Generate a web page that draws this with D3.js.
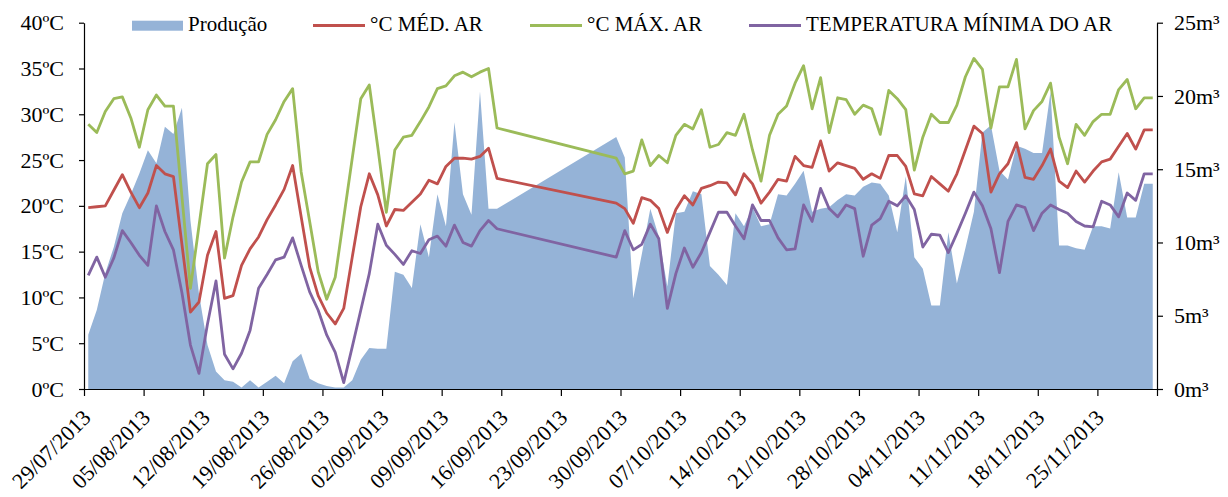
<!DOCTYPE html>
<html>
<head>
<meta charset="utf-8">
<script src="https://cdn.jsdelivr.net/npm/d3@7"></script>
<style>
  body { margin: 0; background: #fff; }
  text { font-family: "Liberation Serif", "Times New Roman", serif; fill: #000; }
</style>
</head>
<body>
<div id="chart"></div>
<script>
// days with data (16/09 - 28/09 missing)
var dias = ["29/07/2013","30/07/2013","31/07/2013",
  "01/08/2013","02/08/2013","03/08/2013","04/08/2013","05/08/2013","06/08/2013","07/08/2013","08/08/2013","09/08/2013","10/08/2013",
  "11/08/2013","12/08/2013","13/08/2013","14/08/2013","15/08/2013","16/08/2013","17/08/2013","18/08/2013","19/08/2013","20/08/2013",
  "21/08/2013","22/08/2013","23/08/2013","24/08/2013","25/08/2013","26/08/2013","27/08/2013","28/08/2013","29/08/2013","30/08/2013","31/08/2013",
  "01/09/2013","02/09/2013","03/09/2013","04/09/2013","05/09/2013","06/09/2013","07/09/2013","08/09/2013","09/09/2013","10/09/2013",
  "11/09/2013","12/09/2013","13/09/2013","14/09/2013","15/09/2013",
  "29/09/2013","30/09/2013",
  "01/10/2013","02/10/2013","03/10/2013","04/10/2013","05/10/2013","06/10/2013","07/10/2013","08/10/2013","09/10/2013","10/10/2013",
  "11/10/2013","12/10/2013","13/10/2013","14/10/2013","15/10/2013","16/10/2013","17/10/2013","18/10/2013","19/10/2013","20/10/2013",
  "21/10/2013","22/10/2013","23/10/2013","24/10/2013","25/10/2013","26/10/2013","27/10/2013","28/10/2013","29/10/2013","30/10/2013","31/10/2013",
  "01/11/2013","02/11/2013","03/11/2013","04/11/2013","05/11/2013","06/11/2013","07/11/2013","08/11/2013","09/11/2013","10/11/2013",
  "11/11/2013","12/11/2013","13/11/2013","14/11/2013","15/11/2013","16/11/2013","17/11/2013","18/11/2013","19/11/2013","20/11/2013",
  "21/11/2013","22/11/2013","23/11/2013","24/11/2013","25/11/2013","26/11/2013","27/11/2013","28/11/2013","29/11/2013","30/11/2013",
  "01/12/2013"];

// m3
var producao = [3.7,5.4,7.9,9.7,12.0,13.3,14.7,16.3,15.4,17.9,17.4,19.2,11.5,6.5,3.0,1.2,0.6,0.5,0.1,0.6,0.1,0.5,0.9,0.4,1.9,2.4,0.7,0.4,0.2,0.1,0.1,0.6,2.0,2.8,2.75,2.75,8.0,7.8,6.9,11.25,9.0,13.3,11.1,18.2,13.3,11.9,20.3,12.3,12.3,
  17.2,15.8,6.2,9.2,12.3,10.4,7.0,12.0,12.1,13.5,13.3,8.4,7.8,7.1,12.0,11.1,12.4,11.1,11.25,13.3,13.2,14.0,14.9,12.1,12.3,12.4,12.9,13.3,13.2,13.8,14.1,14.0,13.2,
  10.7,14.5,9.0,8.2,5.7,5.7,10.7,7.2,9.6,12.1,17.5,18.0,14.9,14.3,16.6,16.4,16.1,16.1,20.3,9.8,9.8,9.6,9.5,11.1,11.1,10.95,14.8,11.7,11.7,14.0,14.0];

var tMed = [19.8,19.9,20.0,21.7,23.4,21.5,19.8,21.4,24.4,23.5,23.2,15.8,8.4,9.5,14.6,17.2,9.9,10.2,13.5,15.3,16.6,18.5,20.1,21.8,24.4,18.8,13.3,10.2,8.3,7.1,8.8,14.4,19.9,23.5,21.2,17.8,19.6,19.5,20.4,21.3,22.8,22.4,24.3,25.2,25.2,25.1,25.4,26.3,23.0,
  20.3,19.7,18.1,20.9,20.6,19.7,17.1,19.6,21.1,20.1,21.9,22.2,22.6,22.5,21.2,23.5,22.4,20.3,21.5,22.9,22.7,25.4,24.4,24.2,27.1,23.8,24.7,24.4,24.1,22.9,23.5,23.0,25.5,
  25.5,24.3,21.3,21.1,23.2,22.4,21.6,23.5,26.1,28.7,27.9,21.5,23.5,24.6,26.9,23.1,22.9,24.4,26.2,22.7,22.0,23.8,22.6,23.8,24.8,25.1,26.5,27.9,26.2,28.3,28.3];

var tMax = [28.9,28.0,30.3,31.7,31.9,29.6,26.4,30.5,32.1,30.9,30.9,21.0,11.0,17.8,24.6,25.6,14.3,18.8,22.6,24.8,24.8,27.8,29.4,31.4,32.8,23.7,18.3,12.8,9.8,12.2,18.7,25.2,31.7,33.2,26.4,19.3,26.1,27.5,27.7,29.2,30.8,32.8,33.1,34.2,34.6,34.1,34.6,35.0,28.5,
  25.2,23.5,23.8,27.2,24.4,25.5,24.7,27.7,28.9,28.4,30.5,26.4,26.7,28.0,27.7,30.0,26.1,22.7,27.7,30.0,30.9,33.4,35.3,30.6,34.0,28.0,31.8,31.6,30.0,31.0,30.6,27.8,32.6,
  31.7,30.5,23.9,27.5,30.0,29.1,29.1,31.0,34.1,36.1,34.9,28.5,33.0,33.0,36.0,28.4,30.4,31.4,33.4,27.5,24.6,28.9,27.7,29.2,30.0,30.0,32.7,33.8,30.6,31.8,31.8];

var tMin = [12.4,14.4,12.2,14.3,17.3,16.0,14.6,13.5,20.0,17.2,15.2,10.5,4.8,1.7,7.1,11.8,3.8,2.2,3.9,6.4,11.0,12.5,14.1,14.4,16.5,13.5,10.6,8.6,5.9,4.0,0.7,4.6,8.6,12.6,18.0,15.7,14.7,13.6,15.1,14.8,16.3,16.7,15.6,17.9,16.0,15.6,17.3,18.4,17.5,
  14.4,17.3,15.2,15.8,18.0,16.4,8.8,12.6,15.4,13.3,14.9,17.1,19.3,19.3,17.8,16.4,20.1,18.4,18.4,16.5,15.2,15.3,20.1,18.3,21.9,19.7,18.8,20.1,19.7,14.5,17.9,18.6,20.5,
  20.0,21.1,19.6,15.5,16.9,16.8,14.9,17.0,19.2,21.5,20.0,17.5,12.7,18.3,20.1,19.8,17.3,19.2,20.1,19.6,19.2,18.3,17.8,17.7,20.5,20.1,18.8,21.4,20.6,23.5,23.5];

var semanas = ["29/07/2013","05/08/2013","12/08/2013","19/08/2013","26/08/2013","02/09/2013","09/09/2013","16/09/2013","23/09/2013",
  "30/09/2013","07/10/2013","14/10/2013","21/10/2013","28/10/2013","04/11/2013","11/11/2013","18/11/2013","25/11/2013"];
var fimEixo = "02/12/2013";

var ticksTemp = [0, 5, 10, 15, 20, 25, 30, 35, 40];
var ticksVol = [0, 5, 10, 15, 20, 25];

var series = [
  {nome: "°C MÉD. AR", valores: tMed, cor: "#C0504D"},
  {nome: "°C MÁX. AR", valores: tMax, cor: "#9BBB59"},
  {nome: "TEMPERATURA MÍNIMA DO AR", valores: tMin, cor: "#8064A2"}
];

var W = 1228, H = 497;
var plotLeft = 84, plotRight = 1157, plotTop = 22.7, plotBottom = 389;

var parse = d3.utcParse("%d/%m/%Y");
var halfDay = 12 * 3600 * 1000;
var datas = dias.map(function(s) { return new Date(parse(s).getTime() + halfDay); });

var svg = d3.select("#chart").append("svg")
  .attr("width", W).attr("height", H);

var x = d3.scaleUtc()
  .domain([parse(semanas[0]), parse(fimEixo)])
  .range([plotLeft, plotRight]);

var yT = d3.scaleLinear().domain([0, 40]).range([plotBottom, plotTop]);
var yV = d3.scaleLinear().domain([0, 25]).range([plotBottom, plotTop]);

// area Produção
var area = d3.area()
  .x(function(d, i) { return x(datas[i]); })
  .y0(yV(0))
  .y1(function(d) { return yV(d); });

svg.append("path")
  .datum(producao)
  .attr("fill", "#95B3D7")
  .attr("d", area);

// temperature lines
var line = d3.line()
  .x(function(d, i) { return x(datas[i]); })
  .y(function(d) { return yT(d); });

series.forEach(function(s) {
  svg.append("path")
    .datum(s.valores)
    .attr("fill", "none")
    .attr("stroke", s.cor)
    .attr("stroke-width", 2.8)
    .attr("stroke-linejoin", "round")
    .attr("d", line);
});

// axes
var axisL = svg.append("g")
  .attr("transform", "translate(" + plotLeft + ",0)")
  .call(d3.axisLeft(yT).tickValues(ticksTemp).tickSize(5).tickSizeOuter(0).tickPadding(15)
    .tickFormat(function(d) { return d + "ºC"; }));

var axisR = svg.append("g")
  .attr("transform", "translate(" + plotRight + ",0)")
  .call(d3.axisRight(yV).tickValues(ticksVol).tickSize(6).tickSizeOuter(0).tickPadding(11)
    .tickFormat(function(d) { return d + "m³"; }));

var tickDates = semanas.map(parse).concat([parse(fimEixo)]);
var axisB = svg.append("g")
  .attr("transform", "translate(0," + plotBottom + ")")
  .call(d3.axisBottom(x).tickValues(tickDates).tickSize(7).tickSizeOuter(0).tickFormat(""));

[axisL, axisR, axisB].forEach(function(g) {
  g.selectAll("path, line").attr("stroke", "#000").attr("stroke-width", 1.2);
  g.selectAll("text").style("font-size", "22px")
    .style("font-family", "'Liberation Serif', serif").attr("fill", "#000");
});

// rotated date labels
svg.append("g").selectAll("text")
  .data(semanas)
  .enter()
  .append("text")
  .attr("text-anchor", "end")
  .attr("transform", function(d) { return "translate(" + (x(parse(d)) + 8) + "," + 419 + ") rotate(-45)"; })
  .style("font-size", "22px")
  .text(function(d) { return d; });

// legend
var lg = svg.append("g").style("font-size", "21px");
lg.append("rect").attr("x", 132).attr("y", 20.7).attr("width", 51).attr("height", 10).attr("fill", "#95B3D7");
lg.append("text").attr("x", 188).attr("y", 30.5).text("Produção");
var legX = [313, 530, 749];
series.forEach(function(s, i) {
  lg.append("line")
    .attr("x1", legX[i]).attr("x2", legX[i] + 52)
    .attr("y1", 25.5).attr("y2", 25.5)
    .attr("stroke", s.cor).attr("stroke-width", 3);
  lg.append("text").attr("x", legX[i] + 57).attr("y", 30.5).text(s.nome);
});
</script>
</body>
</html>
